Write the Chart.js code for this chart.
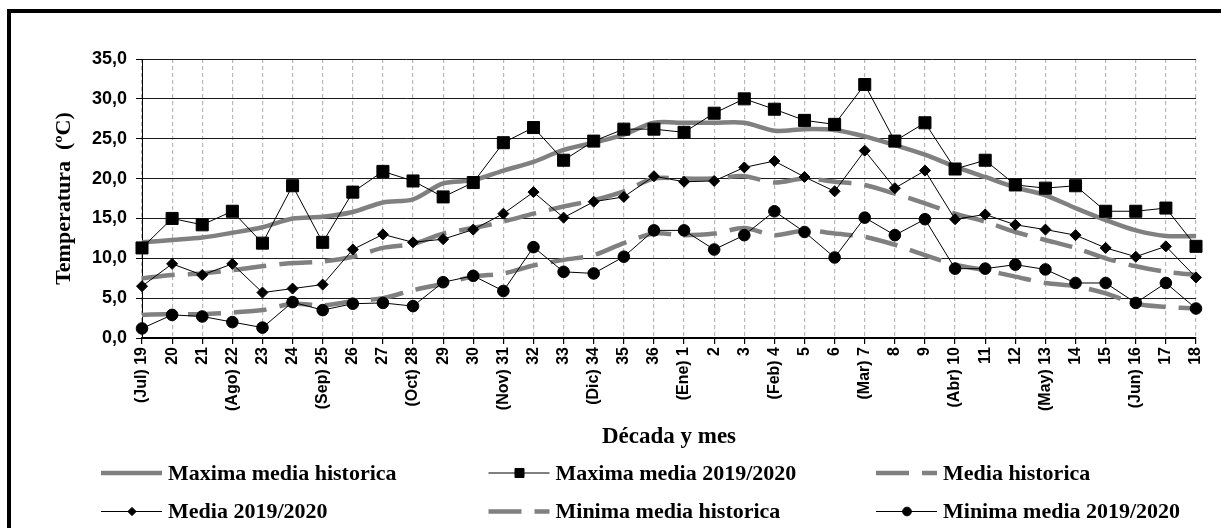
<!DOCTYPE html>
<html>
<head>
<meta charset="utf-8">
<script src="https://cdn.jsdelivr.net/npm/chart.js"></script>
<style>
  body { margin: 0; background: #fff; }
  #wrap { position: relative; width: 1221px; height: 528px; }
  #frame { position: absolute; left: 7px; top: 9px; width: 1300px; height: 600px;
           border-left: 4px solid #000; border-top: 4px solid #000; pointer-events: none; }
</style>
</head>
<body>
<div id="wrap">
  <canvas id="tempChart" width="1221" height="528"></canvas>
  <div id="frame"></div>
</div>
<script>
const decades = ['(Jul) 19','20','21','(Ago) 22','23','24','(Sep) 25','26','27','(Oct) 28','29','30',
  '(Nov) 31','32','33','(Dic) 34','35','36','(Ene) 1','2','3','(Feb) 4','5','6',
  '(Mar) 7','8','9','(Abr) 10','11','12','(May) 13','14','15','(Jun) 16','17','18'];

const maxHist = [12.0,12.3,12.6,13.2,13.9,15.0,15.2,15.8,17.0,17.4,19.4,19.8,21.0,22.1,23.6,24.5,25.5,27.0,
  27.0,27.0,27.0,26.0,26.2,26.1,25.3,24.2,23.0,21.5,20.2,18.9,17.9,16.3,14.8,13.5,12.8,12.8];
const max1920 = [11.3,15.0,14.2,15.9,11.9,19.1,12.0,18.3,20.9,19.7,17.7,19.5,24.5,26.4,22.3,24.7,26.2,26.2,
  25.8,28.2,30.0,28.7,27.3,26.8,31.8,24.7,27.0,21.2,22.3,19.2,18.8,19.1,15.9,15.9,16.3,11.5];
const mediaHist = [7.5,7.9,8.1,8.5,9.0,9.4,9.6,10.2,11.3,11.8,13.1,13.8,14.6,15.6,16.5,17.3,18.4,20.0,
  20.0,20.0,20.3,19.5,20.0,19.6,19.2,18.1,16.9,15.6,14.6,13.3,12.3,11.3,10.0,9.0,8.3,7.9];
const media1920 = [6.5,9.3,7.9,9.3,5.7,6.2,6.7,11.1,13.0,12.0,12.4,13.6,15.6,18.3,15.1,17.1,17.7,20.3,
  19.6,19.7,21.4,22.2,20.2,18.4,23.5,18.8,21.0,14.9,15.5,14.2,13.6,12.9,11.3,10.2,11.5,7.6];
const minHist = [2.9,3.0,3.0,3.2,3.5,4.3,4.1,4.6,5.0,6.0,6.8,7.7,8.1,9.1,9.8,10.4,11.9,13.1,
  12.9,13.1,13.8,12.9,13.5,13.1,12.7,11.7,10.4,9.2,8.5,7.7,6.9,6.5,5.6,4.3,3.9,3.7];
const min1920 = [1.2,2.9,2.7,2.0,1.3,4.5,3.5,4.3,4.4,4.0,7.0,7.8,5.9,11.4,8.3,8.1,10.2,13.5,
  13.5,11.1,12.9,15.9,13.3,10.1,15.1,12.9,14.9,8.7,8.7,9.2,8.6,6.9,6.9,4.4,6.9,3.7];

const yMin = 0, yMax = 35, yStep = 5;

const gray = '#808080';
const serif = '"Liberation Serif", "Times New Roman", serif';
const sans = '"Liberation Sans", Arial, sans-serif';

function histLine(label, data, dash) {
  return { label: label, data: data, borderColor: gray, backgroundColor: gray, borderWidth: 4.5,
    borderDash: dash, pointRadius: 0, tension: 0.3, order: 2 };
}
function obsLine(label, data, style, r) {
  return { label: label, data: data, borderColor: '#000', backgroundColor: '#000', borderWidth: 1,
    pointStyle: style, pointRadius: r, pointBackgroundColor: '#000', pointBorderColor: '#000',
    tension: 0, order: 1 };
}

// legend in three fixed columns, two rows
const gridLegend = {
  id: 'gridLegend',
  afterDraw(chart) {
    const ctx = chart.ctx;
    chart.data.datasets.forEach((ds, i) => {
      const tx = 168 + (i % 3) * 387.5;
      const ty = 473 + Math.floor(i / 3) * 38.5;
      ctx.save();
      ctx.strokeStyle = ds.borderColor;
      ctx.lineWidth = ds.borderWidth;
      ctx.setLineDash(ds.borderDash || []);
      ctx.beginPath();
      ctx.moveTo(tx - 67, ty);
      ctx.lineTo(tx - 6, ty);
      ctx.stroke();
      if (ds.pointRadius) {
        ctx.setLineDash([]);
        ctx.fillStyle = '#000';
        ctx.strokeStyle = '#000';
        ctx.lineWidth = 1;
        Chart.helpers.drawPoint(ctx, { pointStyle: ds.pointStyle, radius: ds.pointRadius * 0.75, borderWidth: 1 }, tx - 36, ty);
      }
      ctx.fillStyle = '#000';
      ctx.font = 'bold 22px ' + serif;
      ctx.textAlign = 'left';
      ctx.textBaseline = 'middle';
      ctx.fillText(ds.label, tx, ty + 1);
      ctx.restore();
    });
  }
};

new Chart(document.getElementById('tempChart'), {
  type: 'line',
  data: {
    labels: decades,
    datasets: [
      histLine('Maxima media historica', maxHist, []),
      obsLine('Maxima media 2019/2020', max1920, 'rect', 8.5),
      histLine('Media historica', mediaHist, [33, 13]),
      obsLine('Media 2019/2020', media1920, 'rectRot', 5.5),
      histLine('Minima media historica', minHist, [33, 13]),
      obsLine('Minima media 2019/2020', min1920, 'circle', 5.8)
    ]
  },
  options: {
    responsive: false,
    animation: false,
    layout: { padding: { top: 59, right: 25, left: 0, bottom: 77 } },
    plugins: { legend: { display: false }, tooltip: { enabled: false } },
    scales: {
      x: {
        offset: false,
        afterFit(scale) { scale.height = 113; },
        grid: { color: '#b8b8b8', lineWidth: 1.2, tickColor: '#000', tickLength: 6, tickBorderDash: [] },
        border: { color: '#000', width: 2, dash: [4, 3] },
        ticks: { autoSkip: false, minRotation: 90, maxRotation: 90, padding: 3, color: '#000',
          font: { family: sans, size: 16, weight: 'bold' } },
        title: { display: true, text: 'Década y mes', color: '#000', padding: { top: 0, bottom: 0 },
          font: { family: serif, size: 23, weight: 'bold' } }
      },
      y: {
        min: yMin, max: yMax,
        afterFit(scale) { scale.width = 142; },
        grid: { color: '#1a1a1a', lineWidth: 1, tickColor: '#000', tickLength: 6 },
        border: { color: '#000', width: 1 },
        ticks: { stepSize: yStep, padding: 9, color: '#000',
          font: { family: sans, size: 18, weight: 'bold' },
          callback: v => v.toFixed(1).replace('.', ',') },
        title: { display: true, text: 'Temperatura  (ºC)', color: '#000', padding: { top: 51, bottom: 0 },
          font: { family: serif, size: 22, weight: 'bold' } }
      }
    }
  },
  plugins: [gridLegend]
});
</script>
</body>
</html>
